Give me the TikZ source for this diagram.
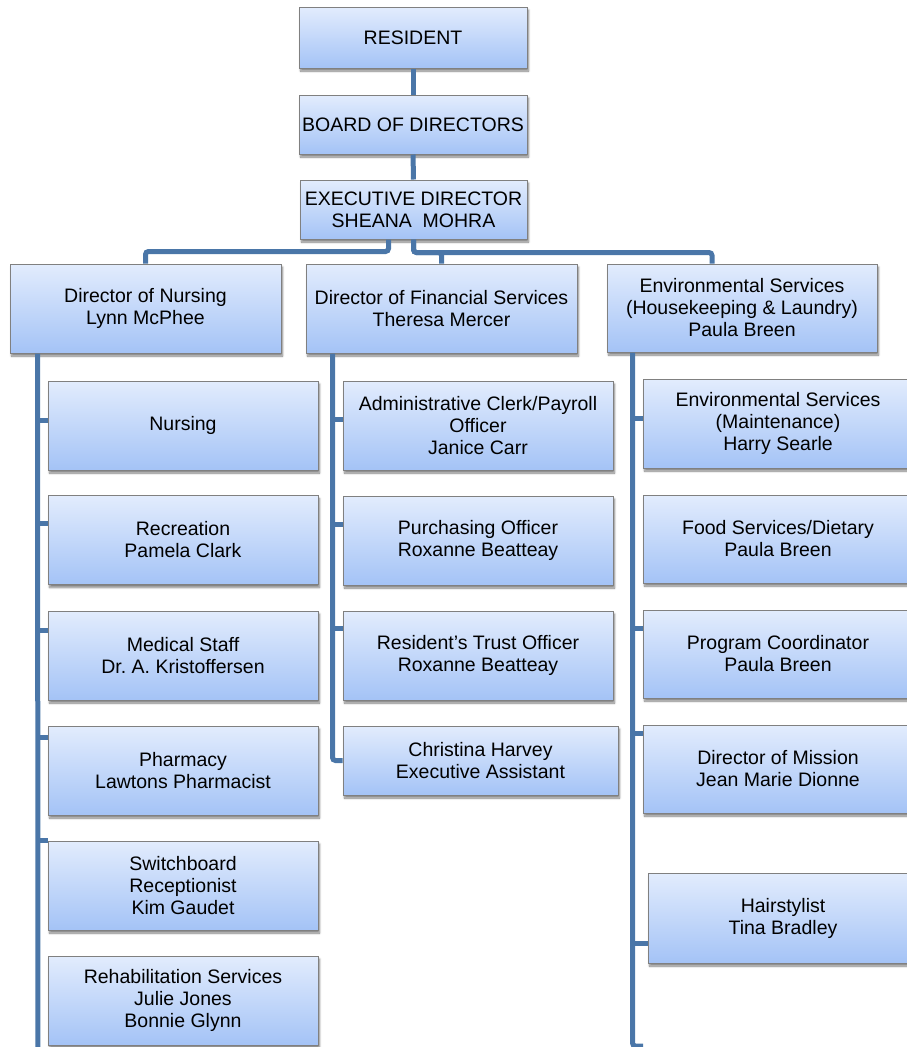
\documentclass[tikz,border=0pt]{standalone}
\usepackage{fontspec}
\setmainfont{Liberation Sans}
\usetikzlibrary{shadows.blur}
\frenchspacing

\definecolor{linkblue}{RGB}{74,118,168}
\definecolor{boxtop}{RGB}{226,236,253}
\definecolor{boxbottom}{RGB}{164,195,246}
\definecolor{boxgray}{RGB}{128,128,128}

\begin{document}
\begin{tikzpicture}[
    x=1pt, y=-1pt,
    every node/.style={font={\fontsize{19.5}{22}\selectfont}},
    unit/.style={draw=boxgray, line width=1pt, top color=boxtop, bottom color=boxbottom,
        align=center, inner sep=1pt, minimum width=270pt, minimum height=89pt,
        blur shadow={shadow xshift=1.5pt, shadow yshift=-3pt, shadow blur steps=6, shadow opacity=50}},
    link/.style={draw=linkblue, line width=5pt, rounded corners=3pt}
]
\useasboundingbox (0,0) rectangle (907,1047);
\clip (0,0) rectangle (907,1047);

% top of the chart
\node[unit, minimum width=228pt, minimum height=61pt] (res) at (413,37.5) {RESIDENT};
\node[unit, minimum width=228pt, minimum height=59pt] (board) at (413,124.5) {BOARD OF DIRECTORS};
\node[unit, minimum width=227pt, minimum height=59pt] (exec) at (413.5,209.5) {EXECUTIVE DIRECTOR\\SHEANA~~MOHRA};

% directors
\node[unit, minimum width=271pt] (nurdir) at (145.5,308.5) {Director of Nursing\\Lynn McPhee};
\node[unit, minimum width=271pt] (fin) at (441.5,308.5) {Director of Financial Services\\Theresa Mercer};
\node[unit, minimum height=88pt] (env) at (742,308) {Environmental Services\\(Housekeeping \& Laundry)\\Paula Breen};

% nursing
\node[unit] (nursing) at (183,425.5) {Nursing};
\node[unit] (recreation) at (183,540) {Recreation\\Pamela Clark};
\node[unit] (medical) at (183,655.5) {Medical Staff\\Dr. A. Kristoffersen};
\node[unit] (pharmacy) at (183,770.5) {Pharmacy\\Lawtons Pharmacist};
\node[unit] (switchboard) at (183,885.5) {Switchboard\\Receptionist\\Kim Gaudet};
\node[unit] (rehab) at (183,1000.5) {Rehabilitation Services\\Julie Jones\\Bonnie Glynn};

% financial services
\node[unit] (admin) at (478,425.5) {Administrative Clerk/Payroll\\Officer\\Janice Carr};
\node[unit] (purchasing) at (478,540.5) {Purchasing Officer\\Roxanne Beatteay};
\node[unit] (trust) at (478,655.5) {Resident’s Trust Officer\\Roxanne Beatteay};
\node[unit, minimum width=275pt, minimum height=69pt] (christina) at (480.5,760.5) {Christina Harvey\\Executive Assistant};

% environmental services
\node[unit] (maint) at (778,423.5) {Environmental Services\\(Maintenance)\\Harry Searle};
\node[unit, minimum height=88pt] (food) at (778,539) {Food Services/Dietary\\Paula Breen};
\node[unit, minimum height=88pt] (program) at (778,654) {Program Coordinator\\Paula Breen};
\node[unit, minimum height=88pt] (mission) at (778,769) {Director of Mission\\Jean Marie Dionne};
\node[unit, minimum height=90pt] (hair) at (783,918) {Hairstylist\\Tina Bradley};

% connectors
\draw[link] (res) -- (board);
\draw[link] (board) -- (exec);
\draw[link] ([xshift=-25pt]exec.south) -- ++(0,12) -| (nurdir.north);
\draw[link] (exec.south) -- ++(0,13) -| (fin.north);
\draw[link] (exec.south) -- ++(0,13) -| ([xshift=-30pt]env.north);

\coordinate (nurtrunk) at ([xshift=28pt]nurdir.south west);
\coordinate (nurend) at (38,1050);
\draw[link] (nurtrunk) -- (nurend);
\foreach \n/\y in {nursing/420, recreation/523, medical/630, pharmacy/737, switchboard/840}
    \draw[link] (nurtrunk |- 0,\y) -- (\n.west |- 0,\y);

\coordinate (fintrunk) at ([xshift=27pt]fin.south west);
\draw[link] (fintrunk) |- (christina.west);
\foreach \n/\y in {admin/419, purchasing/524, trust/628}
    \draw[link] (fintrunk |- 0,\y) -- (\n.west |- 0,\y);

\coordinate (envtrunk) at ([xshift=26pt]env.south west);
\coordinate (envend) at (643,1046);
\draw[link] (envtrunk) |- (envend);
\foreach \n/\y in {maint/418, program/628, mission/733, hair/943}
    \draw[link] (envtrunk |- 0,\y) -- (\n.west |- 0,\y);
\end{tikzpicture}
\end{document}
